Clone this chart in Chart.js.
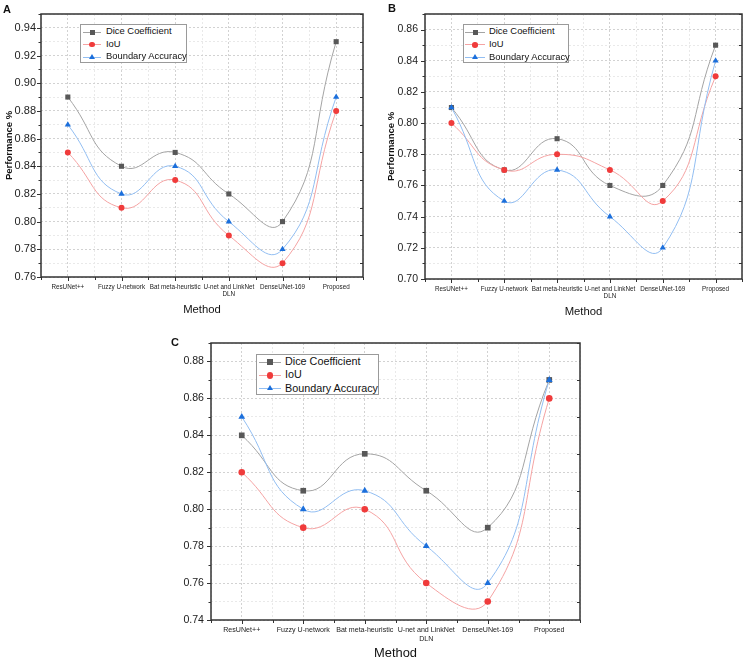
<!DOCTYPE html>
<html>
<head>
<meta charset="utf-8">
<script src="https://cdn.jsdelivr.net/npm/chart.js@4.4.1/dist/chart.umd.min.js"></script>
<style>
  body { margin: 0; background: #fff; width: 748px; height: 659px; position: relative; overflow: hidden;
         font-family: "Liberation Sans", Arial, sans-serif; color: #111; }
  canvas { position: absolute; }
  .tag { position: absolute; font-weight: bold; font-size: 11px; line-height: 11px; color: #111; }
  .legend { position: absolute; box-sizing: border-box; border: 1px solid #9a9a9a; background: #fff; }
  .legend .row { position: absolute; left: 0; right: 0; white-space: nowrap; }
  .legend .sym { position: absolute; top: 0; bottom: 0; }
  .legend .ln { position: absolute; left: 0; right: 0; top: 50%; height: 1px; }
  .legend .mk { position: absolute; left: 50%; top: 50%; }
  .legend .txt { position: absolute; top: 0; color: #111; }
</style>
</head>
<body>
<script>
// 3 panels (A, B, C): Dice / IoU / Boundary Accuracy per method

const methods = ['ResUNet++', 'Fuzzy U-network', 'Bat meta-heuristic', ['U-net and LinkNet', 'DLN'], 'DenseUNet-169', 'Proposed'];
const seriesNames = ['Dice Coefficient', 'IoU', 'Boundary Accuracy'];

// panel A
const diceA = [0.89, 0.84, 0.85, 0.82, 0.80, 0.93];
const iouA = [0.85, 0.81, 0.83, 0.79, 0.77, 0.88];
const boundaryA = [0.87, 0.82, 0.84, 0.80, 0.78, 0.89];
const yLabelsA = ['0.76', '0.78', '0.80', '0.82', '0.84', '0.86', '0.88', '0.90', '0.92', '0.94'];

// panel B
const diceB = [0.81, 0.77, 0.79, 0.76, 0.76, 0.85];
const iouB = [0.80, 0.77, 0.78, 0.77, 0.75, 0.83];
const boundaryB = [0.81, 0.75, 0.77, 0.74, 0.72, 0.84];
const yLabelsB = ['0.70', '0.72', '0.74', '0.76', '0.78', '0.80', '0.82', '0.84', '0.86'];

// panel C
const diceC = [0.84, 0.81, 0.83, 0.81, 0.79, 0.87];
const iouC = [0.82, 0.79, 0.80, 0.76, 0.75, 0.86];
const boundaryC = [0.85, 0.80, 0.81, 0.78, 0.76, 0.87];
const yLabelsC = ['0.74', '0.76', '0.78', '0.80', '0.82', '0.84', '0.86', '0.88'];

const lineColors = ['#a4a4a4', '#f5a3a3', '#92bef2'];
const markerColors = ['#585858', '#f03b3b', '#1b6fdc'];
const markerStyles = ['rect', 'circle', 'triangle'];

Chart.defaults.font.family = '"Liberation Sans", Arial, sans-serif';
Chart.defaults.color = '#222';

// frame + outward ticks like Origin
const framePlugin = {
  id: 'frame',
  beforeDatasetsDraw(chart) {
    const { ctx, chartArea: a, scales } = chart;
    const x = scales.x, y = scales.y;
    ctx.save();
    ctx.strokeStyle = '#333';
    ctx.lineWidth = 1;
    ctx.beginPath();
    y.ticks.forEach(t => {
      const py = Math.round(y.getPixelForValue(t.value)) + 0.5;
      const len = t.label ? 4 : 2.5;
      ctx.moveTo(a.left - len, py); ctx.lineTo(a.left, py);
      if (!t.label) { ctx.moveTo(a.right, py); ctx.lineTo(a.right - 3, py); }
    });
    x.ticks.forEach(t => {
      const px = Math.round(x.getPixelForValue(t.value)) + 0.5;
      const len = t.label ? 4 : 3;
      ctx.moveTo(px, a.bottom); ctx.lineTo(px, a.bottom + len);
    });
    ctx.stroke();
    ctx.lineWidth = 1.5;
    ctx.strokeStyle = '#333';
    ctx.strokeRect(a.left, a.top, a.right - a.left, a.bottom - a.top);
    ctx.restore();
  }
};

function makeLegend(p) {
  const L = p.legend;
  const box = document.createElement('div');
  box.className = 'legend';
  box.style.cssText = `left:${p.x + L.x}px;top:${p.y + L.y}px;width:${L.w}px;height:${L.h}px;font-size:${L.font}px;`;
  seriesNames.forEach((name, i) => {
    const row = document.createElement('div');
    row.className = 'row';
    row.style.top = (L.row0 + i * L.rowH - L.rowH / 2 - 1) + 'px';
    row.style.height = L.rowH + 'px';
    row.style.lineHeight = L.rowH + 'px';

    const sym = document.createElement('div');
    sym.className = 'sym';
    sym.style.left = L.symX + 'px';
    sym.style.width = L.symW + 'px';
    const ln = document.createElement('div');
    ln.className = 'ln';
    ln.style.background = lineColors[i];
    sym.appendChild(ln);

    const mk = document.createElement('div');
    mk.className = 'mk';
    const s = L.mk;
    if (markerStyles[i] === 'triangle') {
      mk.style.cssText += `width:0;height:0;border-left:${s * 0.6}px solid transparent;border-right:${s * 0.6}px solid transparent;border-bottom:${s}px solid ${markerColors[i]};margin-left:${-s * 0.6}px;margin-top:${-s / 2 - 0.5}px;`;
    } else {
      const d = markerStyles[i] === 'circle' ? s + 0.6 : s;
      mk.style.cssText += `width:${d}px;height:${d}px;background:${markerColors[i]};margin-left:${-d / 2}px;margin-top:${-d / 2 + 0.5}px;` +
        (markerStyles[i] === 'circle' ? 'border-radius:50%;' : '');
    }
    sym.appendChild(mk);
    row.appendChild(sym);

    const txt = document.createElement('div');
    txt.className = 'txt';
    txt.style.left = L.textX + 'px';
    txt.textContent = name;
    row.appendChild(txt);
    box.appendChild(row);
  });
  document.body.appendChild(box);
}

function makePanel(p) {
  const canvas = document.createElement('canvas');
  canvas.width = p.w;
  canvas.height = p.h;
  canvas.style.left = p.x + 'px';
  canvas.style.top = p.y + 'px';
  document.body.appendChild(canvas);

  const datasets = p.series.map((vals, i) => ({
    label: seriesNames[i],
    data: vals.map((v, k) => ({ x: k, y: v })),
    borderColor: lineColors[i],
    borderWidth: 1,
    tension: 0.5,
    fill: false,
    pointStyle: markerStyles[i],
    pointRadius: p.marker[i],
    pointBackgroundColor: markerColors[i],
    pointBorderColor: markerColors[i],
    pointBorderWidth: 0,
    order: 3 - i
  }));

  new Chart(canvas, {
    type: 'line',
    data: { datasets },
    options: {
      responsive: false,
      animation: false,
      events: [],
      layout: { padding: { top: p.plot.top, right: p.w - p.plot.right, left: 0, bottom: 0 } },
      plugins: { legend: { display: false }, tooltip: { enabled: false } },
      scales: {
        x: {
          type: 'linear',
          min: -0.5,
          max: 5.5,
          afterFit: s => { s.height = p.h - p.plot.bottom; },
          ticks: {
            stepSize: 0.5, autoSkip: false, maxRotation: 0, minRotation: 0,
            padding: p.xTickPad, font: { size: p.xTickSize }, color: '#222',
            callback: v => Number.isInteger(v) ? methods[v] : ''
          },
          grid: { drawTicks: false, color: c => (c.tick && Number.isInteger(c.tick.value)) ? '#d2d2d2' : '#e9e9e9' },
          border: { display: false, dash: [2, 2] },
          title: { display: true, text: 'Method', font: { size: p.xTitleSize }, color: '#111',
                   padding: { top: 0, bottom: p.xTitlePad } }
        },
        y: {
          min: p.yMin,
          max: p.yMax,
          afterFit: s => { s.width = p.plot.left; },
          ticks: {
            stepSize: 0.01, maxTicksLimit: 100, autoSkip: false,
            padding: p.yTickPad, font: { size: p.yTickSize }, color: '#222',
            callback: v => { const s = v.toFixed(2); return p.yLabels.includes(s) ? s : ''; }
          },
          grid: { drawTicks: false, color: c => (c.tick && p.yLabels.includes(c.tick.value.toFixed(2))) ? '#d2d2d2' : '#e9e9e9' },
          border: { display: false, dash: [2, 2] },
          title: { display: p.yTitle, text: 'Performance %', font: { size: 9.5, weight: 'bold' }, color: '#111',
                   padding: { top: p.yTitlePad, bottom: 0 } }
        }
      }
    },
    plugins: [framePlugin]
  });

  makeLegend(p);

  const tag = document.createElement('div');
  tag.className = 'tag';
  tag.textContent = p.tag.text;
  tag.style.left = (p.x + p.tag.x) + 'px';
  tag.style.top = (p.y + p.tag.y) + 'px';
  document.body.appendChild(tag);
}

makePanel({
  x: 0, y: 0, w: 374, h: 322,
  plot: { left: 41, top: 14, right: 363, bottom: 277 },
  yMin: 0.76, yMax: 0.95, yLabels: yLabelsA,
  series: [diceA, iouA, boundaryA],
  marker: [3.6, 3, 3.6],
  xTickSize: 6.3, xTickPad: 6, yTickSize: 11, yTickPad: 5,
  xTitleSize: 11.3, xTitlePad: 5.2, yTitle: true, yTitlePad: 3.3,
  legend: { x: 80, y: 24, w: 107, h: 39, font: 9.4, row0: 7.7, rowH: 12.5, symX: 2, symW: 18, textX: 25, mk: 5 },
  tag: { text: 'A', x: 3, y: 4 }
});

makePanel({
  x: 374, y: 0, w: 374, h: 322,
  plot: { left: 51, top: 14, right: 372, bottom: 279 },
  yMin: 0.70, yMax: 0.87, yLabels: yLabelsB,
  series: [diceB, iouB, boundaryB],
  marker: [3.6, 3, 3.6],
  xTickSize: 6.3, xTickPad: 6, yTickSize: 10.5, yTickPad: 7,
  xTitleSize: 11.3, xTitlePad: 3.2, yTitle: true, yTitlePad: 12.1,
  legend: { x: 89, y: 24, w: 106, h: 39, font: 9.4, row0: 7.7, rowH: 12.8, symX: 1, symW: 20, textX: 25, mk: 5 },
  tag: { text: 'B', x: 14, y: 3 }
});

makePanel({
  x: 150, y: 325, w: 450, h: 338,
  plot: { left: 61, top: 18, right: 430, bottom: 295 },
  yMin: 0.74, yMax: 0.89, yLabels: yLabelsC,
  series: [diceC, iouC, boundaryC],
  marker: [4, 3.3, 3.9],
  xTickSize: 7.1, xTickPad: 6, yTickSize: 10.6, yTickPad: 7,
  xTitleSize: 12.9, xTitlePad: 2.3, yTitle: false, yTitlePad: 0,
  legend: { x: 106, y: 29, w: 123, h: 41, font: 10.8, row0: 7.7, rowH: 13.3, symX: 2, symW: 22, textX: 28, mk: 5.6 },
  tag: { text: 'C', x: 21, y: 12 }
});
</script>
</body>
</html>
